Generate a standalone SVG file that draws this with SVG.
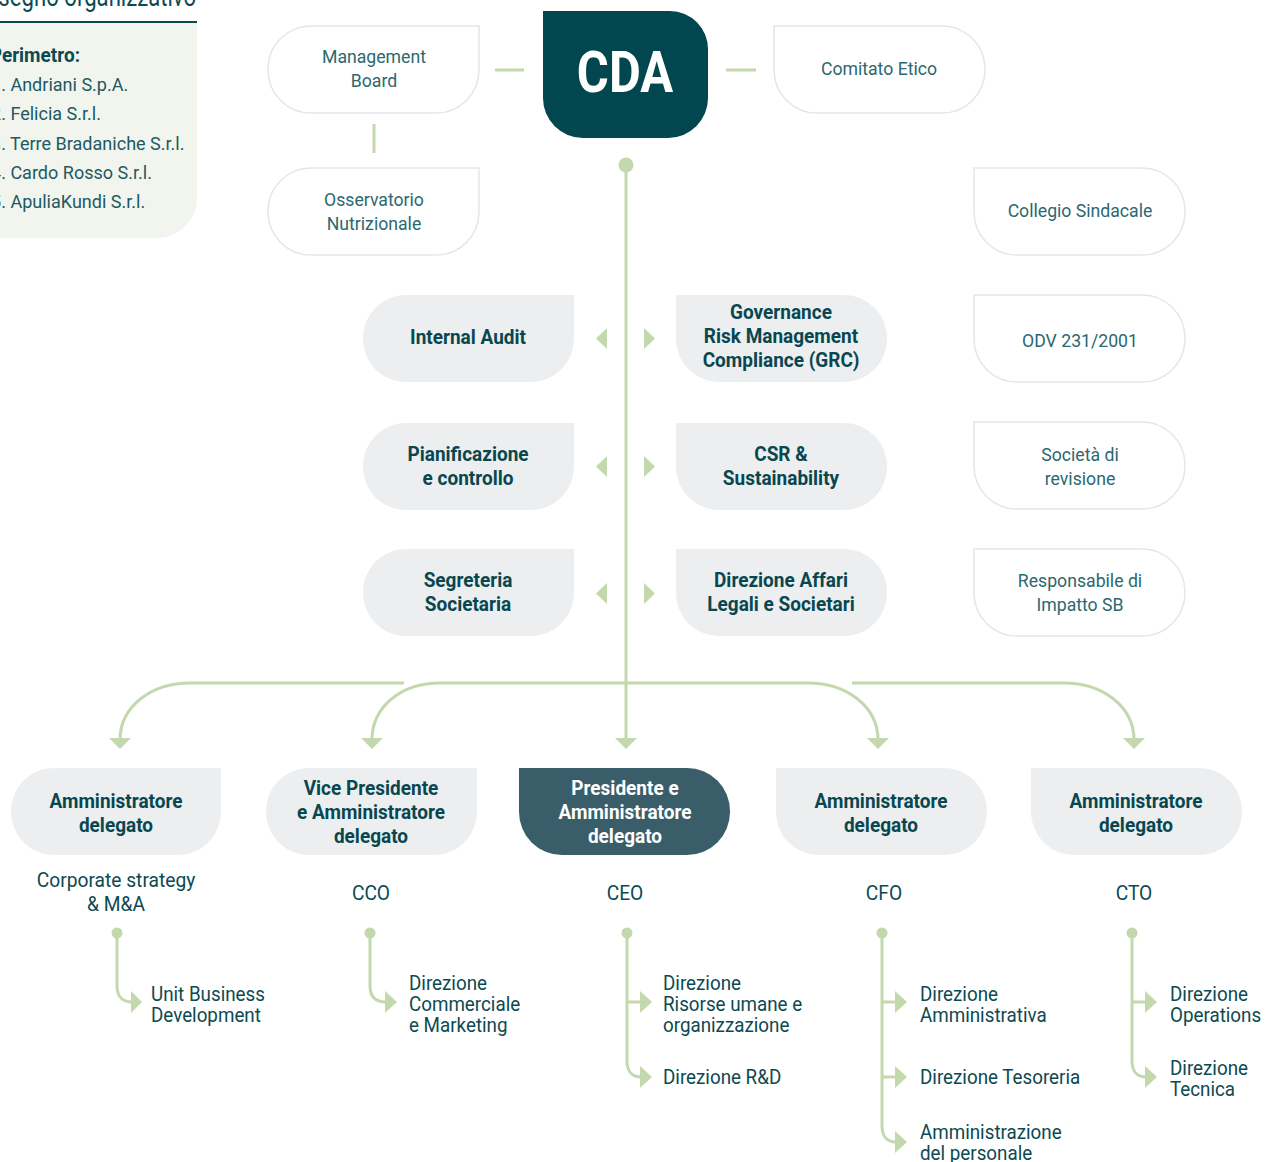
<svg xmlns="http://www.w3.org/2000/svg" width="1266" height="1162" viewBox="0 0 1266 1162">
<style>
text{font-family:"Roboto","Noto Sans","DejaVu Sans",sans-serif;transform-box:fill-box}
.lt,.bd,.wb,.role{text-anchor:middle;transform-origin:50% 50%}
.sub,.ls{text-anchor:start;transform-origin:0% 50%}
.en{text-anchor:end;transform-origin:100% 50%}
.lt{font-size:19px;font-weight:400;fill:#2b6870;transform:scaleX(0.93)}
.bd{font-size:20px;font-weight:700;fill:#08474f;transform:scaleX(0.95)}
.wb{font-size:20px;font-weight:700;fill:#ffffff;transform:scaleX(0.95)}
.sub{font-size:20px;fill:#0c4a52;transform:scaleX(0.94)}
.role{font-size:20px;fill:#0c4a52;transform:scaleX(0.96)}
.ls{font-size:19px;font-weight:400;fill:#1d5a62;transform:scaleX(0.95)}
.wbox{fill:#ffffff;stroke:#e4e7e7;stroke-width:1.5}
.gbox{fill:#eceef0}
.ln{fill:none;stroke:#c4d8ae;stroke-width:3}
.ah{fill:#c4d8ae}
</style>
<rect width="1266" height="1162" fill="#ffffff"/>
<g id="panel">
<path d="M-10,22 H197 V198 A40,40 0 0 1 157,238 H-10 Z" fill="#f2f4ee"/>
<line x1="0" y1="22" x2="197" y2="22" stroke="#0b4a52" stroke-width="2"/>
<text class="en" x="196" y="6" style="font-size:27px;fill:#0b4a52;transform:scaleX(0.82)">Disegno organizzativo</text>
<text class="en" x="80" y="62" style="font-size:20px;font-weight:700;fill:#0b4a52;transform:scaleX(0.95)">Perimetro:</text>
<text class="ls" x="-9" y="91">1. Andriani S.p.A.</text>
<text class="ls" x="-9" y="120">2. Felicia S.r.l.</text>
<text class="ls" x="-9" y="150">3. Terre Bradaniche S.r.l.</text>
<text class="ls" x="-9" y="179">4. Cardo Rosso S.r.l.</text>
<text class="ls" x="-9" y="208">5. ApuliaKundi S.r.l.</text>
</g>
<g id="connectors">
<line class="ln" x1="495" y1="70" x2="524" y2="70"/>
<line class="ln" x1="726" y1="70" x2="756" y2="70"/>
<line class="ln" x1="374" y1="124" x2="374" y2="153"/>
<circle class="ah" cx="626" cy="165" r="7.5"/>
<line class="ln" x1="626" y1="165" x2="626" y2="740"/>
<polygon class="ah" points="607,328 607,349 596,338.5"/>
<polygon class="ah" points="644,328 644,349 655,338.5"/>
<polygon class="ah" points="607,456 607,477 596,466.5"/>
<polygon class="ah" points="644,456 644,477 655,466.5"/>
<polygon class="ah" points="607,583 607,604 596,593.5"/>
<polygon class="ah" points="644,583 644,604 655,593.5"/>
<path class="ln" d="M404,683 H190 C152,683 120,706 120,740"/>
<path class="ln" d="M372,740 C372,706 402,683 440,683 H808 C846,683 878,706 878,740"/>
<path class="ln" d="M852,683 H1064 C1102,683 1134,706 1134,740"/>
<polygon class="ah" points="109,738 131,738 120,749"/>
<polygon class="ah" points="361,738 383,738 372,749"/>
<polygon class="ah" points="615,738 637,738 626,749"/>
<polygon class="ah" points="867,738 889,738 878,749"/>
<polygon class="ah" points="1123,738 1145,738 1134,749"/>
<circle class="ah" cx="117" cy="933" r="5.5"/>
<path class="ln" d="M117,933 V986 C117,996 122,1002 132,1002"/>
<polygon class="ah" points="131,991 131,1013 142,1002"/>
<circle class="ah" cx="370" cy="933" r="5.5"/>
<path class="ln" d="M370,933 V986 C370,996 375,1002 386,1002"/>
<polygon class="ah" points="385,991 385,1013 397,1002"/>
<circle class="ah" cx="627" cy="933" r="5.5"/>
<path class="ln" d="M627,933 V1061 C627,1071 632,1077 641,1077"/>
<line class="ln" x1="627" y1="1002" x2="641" y2="1002"/>
<polygon class="ah" points="640,991 640,1013 652,1002"/>
<polygon class="ah" points="640,1066 640,1088 652,1077"/>
<circle class="ah" cx="882" cy="933" r="5.5"/>
<path class="ln" d="M882,933 V1126 C882,1136 887,1142 896,1142"/>
<line class="ln" x1="882" y1="1002" x2="896" y2="1002"/>
<line class="ln" x1="882" y1="1077" x2="896" y2="1077"/>
<polygon class="ah" points="895,991 895,1013 907,1002"/>
<polygon class="ah" points="895,1066 895,1088 907,1077"/>
<polygon class="ah" points="895,1131 895,1153 907,1142"/>
<circle class="ah" cx="1132" cy="933" r="5.5"/>
<path class="ln" d="M1132,933 V1061 C1132,1071 1137,1077 1146,1077"/>
<line class="ln" x1="1132" y1="1002" x2="1146" y2="1002"/>
<polygon class="ah" points="1145,991 1145,1013 1157,1002"/>
<polygon class="ah" points="1145,1066 1145,1088 1157,1077"/>
</g>
<g id="cda">
<path d="M543,11 H670 A38,38 0 0 1 708,49 V98 A40,40 0 0 1 668,138 H583 A40,40 0 0 1 543,98 Z" fill="#02474f"/>
<text x="625" y="92" style="font-size:57px;font-weight:700;fill:#fff;text-anchor:middle;transform-origin:50% 50%;transform:scaleX(0.86)">CDA</text>
</g>
<g id="management-board">
<path class="wbox" d="M311,26 H479 V70 A43,43 0 0 1 436,113 H311 A43,43 0 0 1 268,70 V69 A43,43 0 0 1 311,26 Z"/>
<text class="lt" x="374" y="63">Management</text>
<text class="lt" x="374" y="87">Board</text>
</g>
<g id="comitato-etico">
<path class="wbox" d="M774,26 H942 A43,43 0 0 1 985,69 V70 A43,43 0 0 1 942,113 H817 A43,43 0 0 1 774,70 Z"/>
<text class="lt" x="879" y="75">Comitato Etico</text>
</g>
<g id="osservatorio">
<path class="wbox" d="M311,168 H479 V212 A43,43 0 0 1 436,255 H311 A43,43 0 0 1 268,212 V211 A43,43 0 0 1 311,168 Z"/>
<text class="lt" x="374" y="206">Osservatorio</text>
<text class="lt" x="374" y="230">Nutrizionale</text>
</g>
<g id="collegio">
<path class="wbox" d="M974,168 H1142 A43,43 0 0 1 1185,211 V212 A43,43 0 0 1 1142,255 H1017 A43,43 0 0 1 974,212 Z"/>
<text class="lt" x="1080" y="217">Collegio Sindacale</text>
</g>
<g id="odv">
<path class="wbox" d="M974,295 H1142 A43,43 0 0 1 1185,338 V339 A43,43 0 0 1 1142,382 H1017 A43,43 0 0 1 974,339 Z"/>
<text class="lt" x="1080" y="347">ODV 231/2001</text>
</g>
<g id="societa-revisione">
<path class="wbox" d="M974,422 H1142 A43,43 0 0 1 1185,465 V466 A43,43 0 0 1 1142,509 H1017 A43,43 0 0 1 974,466 Z"/>
<text class="lt" x="1080" y="461">Società di</text>
<text class="lt" x="1080" y="485">revisione</text>
</g>
<g id="responsabile-impatto">
<path class="wbox" d="M974,549 H1142 A43,43 0 0 1 1185,592 V593 A43,43 0 0 1 1142,636 H1017 A43,43 0 0 1 974,593 Z"/>
<text class="lt" x="1080" y="587">Responsabile di</text>
<text class="lt" x="1080" y="611">Impatto SB</text>
</g>
<g id="internal-audit">
<path class="gbox" d="M406,295 H574 V339 A43,43 0 0 1 531,382 H406 A43,43 0 0 1 363,339 V338 A43,43 0 0 1 406,295 Z"/>
<text class="bd" x="468" y="344">Internal Audit</text>
</g>
<g id="grc">
<path class="gbox" d="M676,295 H844 A43,43 0 0 1 887,338 V339 A43,43 0 0 1 844,382 H719 A43,43 0 0 1 676,339 Z"/>
<text class="bd" x="781" y="319">Governance</text>
<text class="bd" x="781" y="343">Risk Management</text>
<text class="bd" x="781" y="367">Compliance (GRC)</text>
</g>
<g id="pianificazione">
<path class="gbox" d="M406,423 H574 V467 A43,43 0 0 1 531,510 H406 A43,43 0 0 1 363,467 V466 A43,43 0 0 1 406,423 Z"/>
<text class="bd" x="468" y="461">Pianificazione</text>
<text class="bd" x="468" y="485">e controllo</text>
</g>
<g id="csr">
<path class="gbox" d="M676,423 H844 A43,43 0 0 1 887,466 V467 A43,43 0 0 1 844,510 H719 A43,43 0 0 1 676,467 Z"/>
<text class="bd" x="781" y="461">CSR &amp;</text>
<text class="bd" x="781" y="485">Sustainability</text>
</g>
<g id="segreteria">
<path class="gbox" d="M406,549 H574 V593 A43,43 0 0 1 531,636 H406 A43,43 0 0 1 363,593 V592 A43,43 0 0 1 406,549 Z"/>
<text class="bd" x="468" y="587">Segreteria</text>
<text class="bd" x="468" y="611">Societaria</text>
</g>
<g id="affari-legali">
<path class="gbox" d="M676,549 H844 A43,43 0 0 1 887,592 V593 A43,43 0 0 1 844,636 H719 A43,43 0 0 1 676,593 Z"/>
<text class="bd" x="781" y="587">Direzione Affari</text>
<text class="bd" x="781" y="611">Legali e Societari</text>
</g>
<g id="ad-corporate">
<path class="gbox" d="M54,768 H221 V812 A43,43 0 0 1 178,855 H54 A43,43 0 0 1 11,812 V811 A43,43 0 0 1 54,768 Z"/>
<text class="bd" x="116" y="808">Amministratore</text>
<text class="bd" x="116" y="832">delegato</text>
<text class="role" x="116" y="887">Corporate strategy</text>
<text class="role" x="116" y="911">&amp; M&amp;A</text>
</g>
<g id="vp-ad">
<path class="gbox" d="M309,768 H477 V812 A43,43 0 0 1 434,855 H309 A43,43 0 0 1 266,812 V811 A43,43 0 0 1 309,768 Z"/>
<text class="bd" x="371" y="795">Vice Presidente</text>
<text class="bd" x="371" y="819">e Amministratore</text>
<text class="bd" x="371" y="843">delegato</text>
<text class="role" x="371" y="900">CCO</text>
</g>
<g id="presidente-ad">
<path d="M519,768 H687 A43,43 0 0 1 730,811 V812 A43,43 0 0 1 687,855 H562 A43,43 0 0 1 519,812 Z" fill="#3a5e69"/>
<text class="wb" x="625" y="795">Presidente e</text>
<text class="wb" x="625" y="819">Amministratore</text>
<text class="wb" x="625" y="843">delegato</text>
<text class="role" x="625" y="900">CEO</text>
</g>
<g id="ad-cfo">
<path class="gbox" d="M776,768 H944 A43,43 0 0 1 987,811 V812 A43,43 0 0 1 944,855 H819 A43,43 0 0 1 776,812 Z"/>
<text class="bd" x="881" y="808">Amministratore</text>
<text class="bd" x="881" y="832">delegato</text>
<text class="role" x="884" y="900">CFO</text>
</g>
<g id="ad-cto">
<path class="gbox" d="M1031,768 H1199 A43,43 0 0 1 1242,811 V812 A43,43 0 0 1 1199,855 H1074 A43,43 0 0 1 1031,812 Z"/>
<text class="bd" x="1136" y="808">Amministratore</text>
<text class="bd" x="1136" y="832">delegato</text>
<text class="role" x="1134" y="900">CTO</text>
</g>
<g id="unit-business">
<text class="sub" x="151" y="1001">Unit Business</text>
<text class="sub" x="151" y="1022">Development</text>
</g>
<g id="dir-commerciale">
<text class="sub" x="409" y="990">Direzione</text>
<text class="sub" x="409" y="1011">Commerciale</text>
<text class="sub" x="409" y="1032">e Marketing</text>
</g>
<g id="dir-risorse-umane">
<text class="sub" x="663" y="990">Direzione</text>
<text class="sub" x="663" y="1011">Risorse umane e</text>
<text class="sub" x="663" y="1032">organizzazione</text>
</g>
<g id="dir-rd">
<text class="sub" x="663" y="1084">Direzione R&amp;D</text>
</g>
<g id="dir-amministrativa">
<text class="sub" x="920" y="1001">Direzione</text>
<text class="sub" x="920" y="1022">Amministrativa</text>
</g>
<g id="dir-tesoreria">
<text class="sub" x="920" y="1084">Direzione Tesoreria</text>
</g>
<g id="amm-personale">
<text class="sub" x="920" y="1139">Amministrazione</text>
<text class="sub" x="920" y="1160">del personale</text>
</g>
<g id="dir-operations">
<text class="sub" x="1170" y="1001">Direzione</text>
<text class="sub" x="1170" y="1022">Operations</text>
</g>
<g id="dir-tecnica">
<text class="sub" x="1170" y="1075">Direzione</text>
<text class="sub" x="1170" y="1096">Tecnica</text>
</g>
</svg>
